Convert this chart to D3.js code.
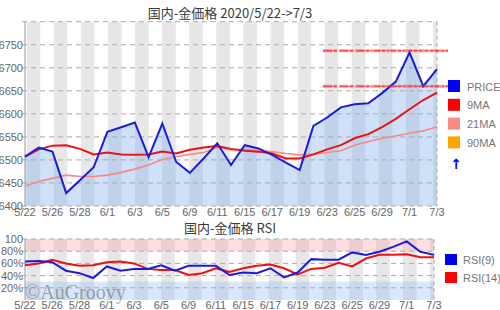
<!DOCTYPE html>
<html>
<head>
<meta charset="utf-8">
<script src="https://cdn.jsdelivr.net/npm/d3@7"></script>
<style>
  body { margin: 0; background: #fff; }
  svg { display: block; }
  .tick-label { font-family: "Liberation Sans Narrow", "Liberation Sans", sans-serif; font-size: 11px; fill: #666; }
  .title { font-family: "Noto Sans CJK JP", sans-serif; font-size: 13px; fill: #3a3a3a; }
</style>
</head>
<body>
<div id="chart"></div>
<script>
// trading days
const dates = ["5/22","5/25","5/26","5/27","5/28","5/29","6/1","6/2","6/3","6/4","6/5",
    "6/8","6/9","6/10","6/11","6/12","6/15","6/16","6/17","6/18","6/19",
    "6/22","6/23","6/24","6/25","6/26","6/29","6/30","7/1","7/2","7/3"]

const price = [6507,6527,6518,6428,6456,6484,6561,6571,6581,6506,6579,
    6496,6472,6503,6536,6489,6532,6525,6511,6494,6478,
    6574,6592,6614,6621,6623,6645,6670,6733,6660,6697]
const ma9 = [6507,6523,6531,6532,6524,6512,6516,6512,6511,6512,6518,
    6514,6522,6527,6530,6524,6520,6518,6514,6503,6503,
    6512,6523,6532,6547,6556,6571,6589,6610,6630,6646]
const ma21 = [6443,6453,6460,6467,6464,6464,6467,6473,6480,6489,6501,
    6507,6512,6516,6527,6522,6523,6520,6518,6514,6511,
    6512,6516,6520,6532,6540,6547,6552,6558,6563,6572]
const levels = [6737, 6660]

const rsi9 = [63,64,62,48,44,36,55,48,51,51,57,
    48,56,56,56,41,45,44,52,37,45,
    67,66,66,78,74,79,87,96,79,74]
const rsi14 = [57,60,66,60,56,57,62,63,60,51,49,
    49,41,44,52,46,52,56,58,52,42,
    51,53,61,55,68,74,74,75,70,70]

const priceTicks = [6400,6450,6500,6550,6600,6650,6700,6750]
const rsiTicks = [20,40,60,80,100]
const legendTop = [
    {name: "PRICE", color: "#0000ff"},
    {name: "9MA", color: "#ff0000"},
    {name: "21MA", color: "#f88a80"},
    {name: "90MA", color: "#ffa500"}
]
const legendRsi = [
    {name: "RSI(9)", color: "#0000ff"},
    {name: "RSI(14)", color: "#ff0000"}
]

const width = 500, height = 310
const svg = d3.select("#chart").append("svg")
    .attr("width", width).attr("height", height)

const stripeColor = "#e7e7e7"
const gridColor = "#aaa"

function drawStripes(g, x0, x1, y0, y1) {
    // alternating grey columns
    const stripeX = d3.scaleLinear().domain([0, 15]).range([x0 + 1.7, x1 - 4])
    g.selectAll("rect.stripe")
        .data(d3.range(16))
        .enter().append("rect")
        .attr("class", "stripe")
        .attr("x", k => stripeX(k))
        .attr("width", k => Math.min(13.6, x1 - stripeX(k)))
        .attr("y", y0).attr("height", y1 - y0)
        .attr("fill", stripeColor)
}

// ---------- price panel ----------
const x = d3.scaleLinear().domain([0, dates.length - 1]).range([25, 437])
const y = d3.scaleLinear().domain([6400, 6800]).range([206, 21.7])

const priceG = svg.append("g")
drawStripes(priceG, 25, 437, y(6800), y(6400))

priceG.append("path")
    .datum(price)
    .attr("d", d3.area().x((d, i) => x(i)).y0(y(6400)).y1(d => y(d)))
    .attr("fill", "rgba(130,175,240,0.38)")

priceG.selectAll("line.grid")
    .data(priceTicks.concat([6800]))
    .enter().append("line")
    .attr("class", "grid")
    .attr("x1", 22).attr("x2", 437)
    .attr("y1", d => y(d)).attr("y2", d => y(d))
    .attr("stroke", gridColor).attr("stroke-dasharray", "5,4")

priceG.append("line")
    .attr("x1", 437).attr("x2", 437).attr("y1", y(6800)).attr("y2", y(6400))
    .attr("stroke", gridColor).attr("stroke-dasharray", "4,3")
priceG.append("line")
    .attr("x1", 25).attr("x2", 25).attr("y1", y(6800)).attr("y2", y(6400))
    .attr("stroke", "#999")

priceG.selectAll("text.ylab")
    .data(priceTicks)
    .enter().append("text")
    .attr("class", "tick-label")
    .attr("x", 23).attr("y", d => y(d) + 4)
    .attr("text-anchor", "end")
    .text(d => d)

priceG.selectAll("text.xlab")
    .data(dates.map((d, i) => [d, i]).filter(d => d[1] % 2 === 0))
    .enter().append("text")
    .attr("class", "tick-label")
    .attr("x", d => x(d[1])).attr("y", 216)
    .attr("text-anchor", "middle")
    .text(d => d[0])

const line = d3.line().x((d, i) => x(i)).y(d => y(d))

priceG.append("path").datum(ma21).attr("d", line)
    .attr("fill", "none").attr("stroke", "#f58a80").attr("stroke-width", 1.6)
priceG.append("path").datum(ma9).attr("d", line)
    .attr("fill", "none").attr("stroke", "#ee1111").attr("stroke-width", 2)
priceG.append("path").datum(price).attr("d", line)
    .attr("fill", "none").attr("stroke", "#1c1cd8").attr("stroke-width", 2)

// resistance / support lines
levels.forEach(v => {
    priceG.append("line")
        .attr("x1", 323).attr("x2", 448).attr("y1", y(v)).attr("y2", y(v))
        .attr("stroke", "rgba(240,40,40,0.45)").attr("stroke-width", 3)
        .attr("stroke-dasharray", "9,2,3,2")
    priceG.append("line")
        .attr("x1", 323).attr("x2", 448).attr("y1", y(v)).attr("y2", y(v))
        .attr("stroke", "#f33").attr("stroke-width", 1)
        .attr("stroke-dasharray", "14,3")
})

priceG.append("text").attr("class", "title")
    .attr("x", 230).attr("y", 18).attr("text-anchor", "middle")
    .text("国内-金価格 2020/5/22->7/3")

const lg = priceG.selectAll("g.legend")
    .data(legendTop)
    .enter().append("g")
    .attr("transform", (d, i) => "translate(448," + (80 + i * 18.8) + ")")
lg.append("rect").attr("width", 12).attr("height", 12).attr("fill", d => d.color)
lg.append("text").attr("class", "tick-label")
    .attr("x", 19).attr("y", 10.5).style("fill", "#777")
    .text(d => d.name)
priceG.append("text")
    .attr("x", 456).attr("y", 169).attr("text-anchor", "middle")
    .attr("font-family", "DejaVu Sans").attr("font-size", "14px")
    .attr("font-weight", "bold").attr("fill", "#0000ee")
    .text("↑")

// ---------- RSI panel ----------
const xr = d3.scaleLinear().domain([0, dates.length - 1]).range([25, 434])
const yr = d3.scaleLinear().domain([0, 100]).range([300, 239])

const rsiG = svg.append("g")
drawStripes(rsiG, 25, 434, yr(100), yr(0))
rsiG.append("rect")
    .attr("x", 25).attr("width", 409)
    .attr("y", yr(100)).attr("height", yr(80) - yr(100))
    .attr("fill", "rgba(250,160,170,0.35)")
rsiG.append("rect")
    .attr("x", 25).attr("width", 409)
    .attr("y", yr(30)).attr("height", yr(0) - yr(30))
    .attr("fill", "rgba(140,185,245,0.33)")

rsiG.selectAll("line.grid")
    .data(rsiTicks)
    .enter().append("line")
    .attr("x1", 22).attr("x2", 434)
    .attr("y1", d => yr(d)).attr("y2", d => yr(d))
    .attr("stroke", gridColor).attr("stroke-dasharray", "5,4")
rsiG.append("line")
    .attr("x1", 434).attr("x2", 434).attr("y1", yr(100)).attr("y2", yr(0))
    .attr("stroke", gridColor).attr("stroke-dasharray", "4,3")
rsiG.append("line")
    .attr("x1", 25).attr("x2", 25).attr("y1", yr(100)).attr("y2", yr(0))
    .attr("stroke", "#999")

rsiG.selectAll("text.ylab")
    .data(rsiTicks)
    .enter().append("text")
    .attr("class", "tick-label")
    .attr("x", 23).attr("y", d => yr(d) + 4)
    .attr("text-anchor", "end")
    .text(d => d === 100 ? "100" : d + "%")

rsiG.selectAll("text.xlab")
    .data(dates.map((d, i) => [d, i]).filter(d => d[1] % 2 === 0))
    .enter().append("text")
    .attr("class", "tick-label")
    .attr("x", d => xr(d[1])).attr("y", 308.5)
    .attr("text-anchor", "middle")
    .text(d => d[0])

const rline = d3.line().x((d, i) => xr(i)).y(d => yr(d))
rsiG.append("path").datum(rsi14).attr("d", rline)
    .attr("fill", "none").attr("stroke", "#ee1111").attr("stroke-width", 2)
rsiG.append("path").datum(rsi9).attr("d", rline)
    .attr("fill", "none").attr("stroke", "#1c1cd8").attr("stroke-width", 2)

rsiG.append("text").attr("class", "title")
    .attr("x", 230).attr("y", 233).attr("text-anchor", "middle")
    .text("国内-金価格 RSI")

rsiG.append("text")
    .attr("x", 25).attr("y", 299)
    .attr("font-family", "Liberation Serif, DejaVu Serif, serif")
    .attr("font-size", "20px").attr("fill", "rgba(110,110,110,0.6)")
    .text("©AuGroovy")

const lr = rsiG.selectAll("g.legend")
    .data(legendRsi)
    .enter().append("g")
    .attr("transform", (d, i) => "translate(445," + (254 + i * 18) + ")")
lr.append("rect").attr("width", 12).attr("height", 11).attr("fill", d => d.color)
lr.append("text").attr("class", "tick-label")
    .attr("x", 18).attr("y", 10).style("fill", "#777")
    .text(d => d.name)
</script>
</body>
</html>
